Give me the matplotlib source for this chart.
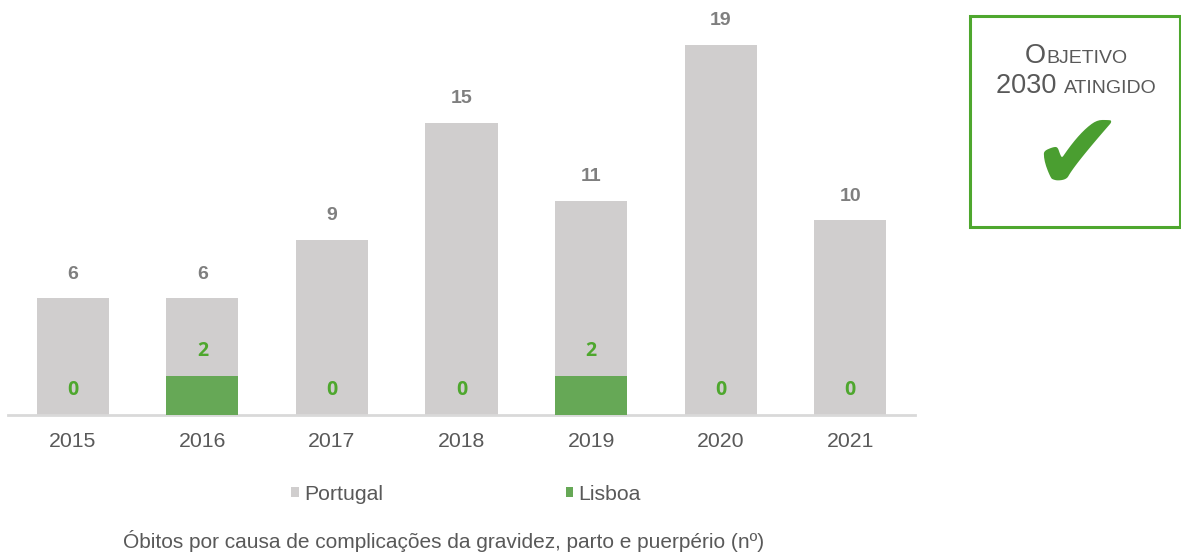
import matplotlib
matplotlib.use("Agg")
import matplotlib.pyplot as plt
from matplotlib.patches import Rectangle

years = ["2015", "2016", "2017", "2018", "2019", "2020", "2021"]
portugal = [6, 6, 9, 15, 11, 19, 10]
lisboa = [0, 2, 0, 0, 2, 0, 0]
series_names = ["Portugal", "Lisboa"]
caption = "Óbitos por causa de complicações da gravidez, parto e puerpério (nº)"

GRAY_BAR = "#d0cece"
GREEN_BAR = "#66a856"
GREEN_TXT = "#4ea72e"
GRAY_TXT = "#7f7f7f"
DARK_TXT = "#595959"

W, H = 1181, 554
fig = plt.figure(figsize=(W / 100, H / 100), dpi=100)
plt.rcParams["font.family"] = ["Liberation Sans", "DejaVu Sans"]

ax = fig.add_axes([8 / W, (H - 415) / H, 907 / W, 415 / H])
x = list(range(len(years)))
bw = 0.556
ax.bar(x, portugal, width=bw, color=GRAY_BAR, label=series_names[0], zorder=2)
ax.bar(x, lisboa, width=bw, color=GREEN_BAR, label=series_names[1], zorder=3)
ax.set_xlim(-0.5, len(years) - 0.5)
ax.set_ylim(0, 415 / 19.5)

for s in ["top", "right", "left"]:
    ax.spines[s].set_visible(False)
ax.spines["bottom"].set_color("#d9d9d9")
ax.spines["bottom"].set_linewidth(2)
ax.set_yticks([])
ax.set_xticks(x)
ax.set_xticklabels(years, fontsize=15.3, color=DARK_TXT)
ax.tick_params(axis="x", length=0, pad=12.5)

for xi, p, l in zip(x, portugal, lisboa):
    ax.annotate(str(p), (xi, p), xytext=(0, 17), textcoords="offset points",
                ha="center", va="center", fontsize=14, fontweight="bold",
                color=GRAY_TXT)
    ax.annotate(str(l), (xi, l), xytext=(0, 18), textcoords="offset points",
                ha="center", va="center", fontsize=14, fontweight="bold",
                color=GREEN_TXT, family="Open Sans")

leg = fig.legend(loc="center", bbox_to_anchor=(466 / W, 1 - 494 / H), ncol=2,
                 frameon=False, fontsize=15.3, handlelength=0.36, handleheight=0.36,
                 handletextpad=0.25, columnspacing=8.6)
for t in leg.get_texts():
    t.set_color(DARK_TXT)

fig.text(444 / W, 1 - 541 / H, caption, ha="center", va="center",
         fontsize=15, color=DARK_TXT)

# Goal box
fig.patches.append(Rectangle((970 / W, 1 - 227 / H), 210 / W, 211 / H,
                             transform=fig.transFigure, fill=False,
                             edgecolor=GREEN_TXT, linewidth=2.2))

renderer = fig.canvas.get_renderer()

def smallcaps_line(parts, cx, cy):
    texts = []
    for s, size in parts:
        t = fig.text(0, cy, s, fontsize=size, color=DARK_TXT, ha="left",
                     va="baseline")
        texts.append(t)
    widths = [t.get_window_extent(renderer).width for t in texts]
    total = sum(widths)
    xpos = cx - total / 2
    for t, w in zip(texts, widths):
        t.set_x(xpos / W)
        xpos += w

smallcaps_line([("O", 19.5), ("BJETIVO", 14)], 1076, 1 - 63 / H)
smallcaps_line([("2030 ", 19.5), ("ATINGIDO", 14)], 1076, 1 - 93 / H)

fig.text(1077 / W, 1 - 159 / H, "✔", fontsize=80, color="#4a9e30",
         ha="center", va="center", family="DejaVu Sans")

fig.savefig("out.png", dpi=100)
